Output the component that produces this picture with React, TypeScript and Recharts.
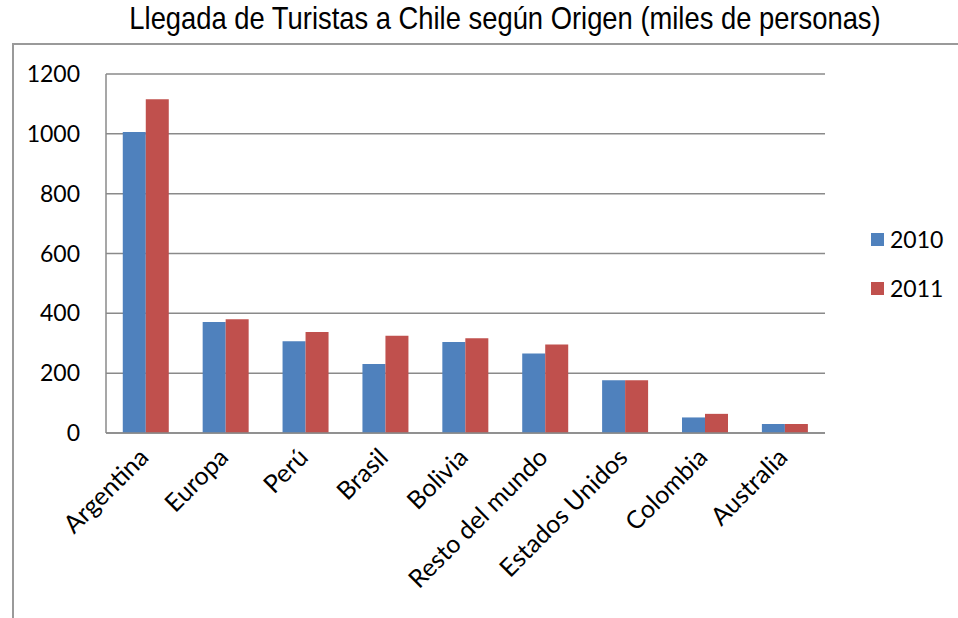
import React from "react"
import { BarChart, Bar, XAxis, YAxis, CartesianGrid } from "recharts"

const origins = [
  "Argentina",
  "Europa",
  "Perú",
  "Brasil",
  "Bolivia",
  "Resto del mundo",
  "Estados Unidos",
  "Colombia",
  "Australia",
]
const arrivals2010 = [1006, 371, 307, 231, 304, 266, 176, 52, 30]
const arrivals2011 = [1116, 380, 338, 325, 317, 296, 176, 64, 30]
const yTicks = [0, 200, 400, 600, 800, 1000, 1200]

const BLUE = "#4F81BD"
const RED = "#C0504D"
const GRID = "#8a8a8a"
const FONT = "Lato, Calibri, sans-serif"

const chartData = origins.map((name, i) => ({
  name,
  y2010: arrivals2010[i],
  y2011: arrivals2011[i],
}))

const CategoryTick = ({ x, y, payload }: any) => (
  <text
    x={x + 4}
    y={y + 18}
    transform={`rotate(-45, ${x + 4}, ${y + 18})`}
    textAnchor="end"
    fontSize={25}
    fontFamily={FONT}
    fill="#000"
  >
    {payload.value}
  </text>
)

const legendItems = [
  { label: "2010", color: BLUE, top: 232 },
  { label: "2011", color: RED, top: 281 },
]

export default function App() {
  return (
    <div style={{ position: "absolute", left: 0, top: 0, width: 958, height: 618, background: "#fff" }}>
      <div
        style={{
          position: "absolute",
          left: 0,
          width: 1010,
          top: 0,
          textAlign: "center",
          fontFamily: "'Liberation Sans', Arial, sans-serif",
          fontSize: 32,
          color: "#000",
          whiteSpace: "nowrap",
          transform: "scaleX(0.855)",
          transformOrigin: "505px 0",
        }}
      >
        Llegada de Turistas a Chile según Origen (miles de personas)
      </div>
      {/* outer frame */}
      <div
        style={{
          position: "absolute",
          left: 12,
          top: 43,
          width: 946,
          height: 575,
          borderTop: "2px solid #9a9a9a",
          borderLeft: "2px solid #9a9a9a",
          boxSizing: "border-box",
        }}
      />
      <div style={{ position: "absolute", left: 0, top: 0 }}>
        <BarChart
          width={958}
          height={618}
          data={chartData}
          margin={{ top: 74, right: 133, bottom: 0, left: 0 }}
          barCategoryGap="21%"
          barGap={0}
        >
          <CartesianGrid vertical={false} stroke={GRID} strokeWidth={1.5} />
          <XAxis
            dataKey="name"
            height={185}
            interval={0}
            axisLine={{ stroke: GRID, strokeWidth: 1.5 }}
            tickLine={false}
            tick={<CategoryTick />}
          />
          <YAxis
            width={106}
            domain={[0, 1200]}
            ticks={yTicks}
            axisLine={{ stroke: GRID, strokeWidth: 1.5 }}
            tickLine={false}
            tickMargin={20}
            tick={{ fontSize: 23, fontFamily: FONT, fill: "#000" }}
          />
          <Bar dataKey="y2010" fill={BLUE} isAnimationActive={false} />
          <Bar dataKey="y2011" fill={RED} isAnimationActive={false} />
        </BarChart>
      </div>
      {legendItems.map((item) => (
        <div
          key={item.label}
          style={{ position: "absolute", left: 871, top: item.top, display: "flex", alignItems: "center" }}
        >
          <div style={{ width: 13, height: 13, background: item.color, marginRight: 6 }} />
          <span style={{ fontFamily: FONT, fontSize: 23, color: "#000", lineHeight: "14px" }}>{item.label}</span>
        </div>
      ))}
    </div>
  )
}
